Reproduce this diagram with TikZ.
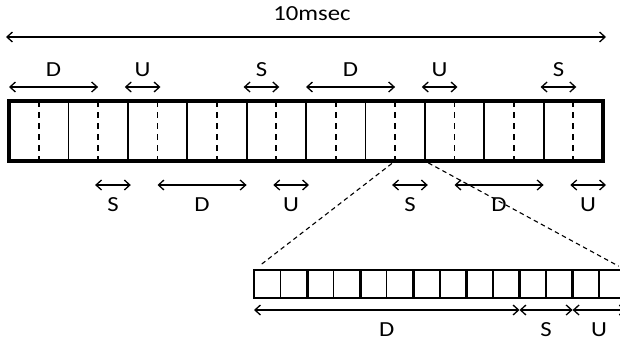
\documentclass[tikz,border=0pt]{standalone}
\usepackage{fontspec}
\setmainfont{Carlito}[FakeStretch=1.15]
\usetikzlibrary{arrows.meta}
\tikzset{
    frame-box/.style = {draw, line width=3.4pt},
    slot-line/.style = {line width=1.8pt},
    half-line/.style = {line width=1.8pt, dash pattern=on 6pt off 5pt},
    cell-line/.style = {line width=1.4pt},
    pair-line/.style = {line width=2.8pt},
    span-arrow/.style = {{Straight Barb[length=5.5pt,width=10pt]}-{Straight Barb[length=5.5pt,width=10pt]}, line width=1.3pt},
    span-label/.style = {font=\fontsize{21.5}{25}\selectfont, inner sep=0pt},
    zoom-line/.style = {line width=1.1pt, dash pattern=on 4.5pt off 3.5pt},
}
\begin{document}
\begin{tikzpicture}[x=1pt,y=1pt]
\useasboundingbox (0,0) rectangle (620,-343);
\clip (0,0) rectangle (620,-343);

% whole 10 ms frame
\node[span-label] (title) at (312,-14) {10msec};
\coordinate (frame-l) at (6,-37);
\coordinate (frame-r) at (606,-37);
\draw[span-arrow] (frame-l) -- (frame-r);

% half-slot boundaries, top and bottom of the frame
\foreach \i in {0,...,20} {
    \coordinate (t\i) at (9+29.7*\i,-101);
    \coordinate (b\i) at (9+29.7*\i,-161);
}
\foreach \i in {2,4,...,18} \draw[slot-line] (t\i) -- (b\i);
\foreach \i in {1,3,...,19} \draw[half-line] (t\i) -- (b\i);
\draw[frame-box] (t0) rectangle (b20);

% spans above the frame
\foreach \a/\b/\lbl/\ext in {0/3/D/0, 4/5/U/3, 8/9/S/3, 10/13/D/0, 14/15/U/3, 18/19/S/3} {
    \draw[span-arrow] ([xshift=-\ext pt,yshift=14pt]t\a) -- ([xshift=\ext pt,yshift=14pt]t\b)
        node[span-label, midway, yshift=17pt] (top-\a) {\lbl};
}
% spans below the frame
\foreach \a/\b/\lbl/\ext in {3/4/S/3, 5/8/D/0, 9/10/U/3, 13/14/S/3, 15/18/D/0, 19/20/U/3} {
    \draw[span-arrow] ([xshift=-\ext pt,yshift=-24pt]b\a) -- ([xshift=\ext pt,yshift=-24pt]b\b)
        node[span-label, midway, yshift=-20pt] (bot-\a) {\lbl};
}

% zoomed slot, cell boundaries
\foreach \j in {0,...,15} {
    \coordinate (z\j) at (254+26.55*\j,-270);
    \coordinate (zb\j) at (254+26.55*\j,-298);
}
\foreach \j in {1,3,...,13} \draw[cell-line] (z\j) -- (zb\j);
\foreach \j in {2,4,...,14} \draw[pair-line] (z\j) -- (zb\j);
\draw[cell-line] (z0) rectangle (zb15);

% zoom lines
\draw[zoom-line, shorten <=4pt, shorten >=9pt] (b13) -- (z0);
\draw[zoom-line, shorten <=4pt, shorten >=8pt] (b14) -- (z14);

% spans below the zoomed slot
\foreach \a/\b/\lbl in {0/10/D, 10/12/S, 12/14/U} {
    \draw[span-arrow] ([yshift=-12pt]zb\a) -- ([yshift=-12pt]zb\b)
        node[span-label, midway, yshift=-20pt] (zoom-\a) {\lbl};
}
\end{tikzpicture}
\end{document}
